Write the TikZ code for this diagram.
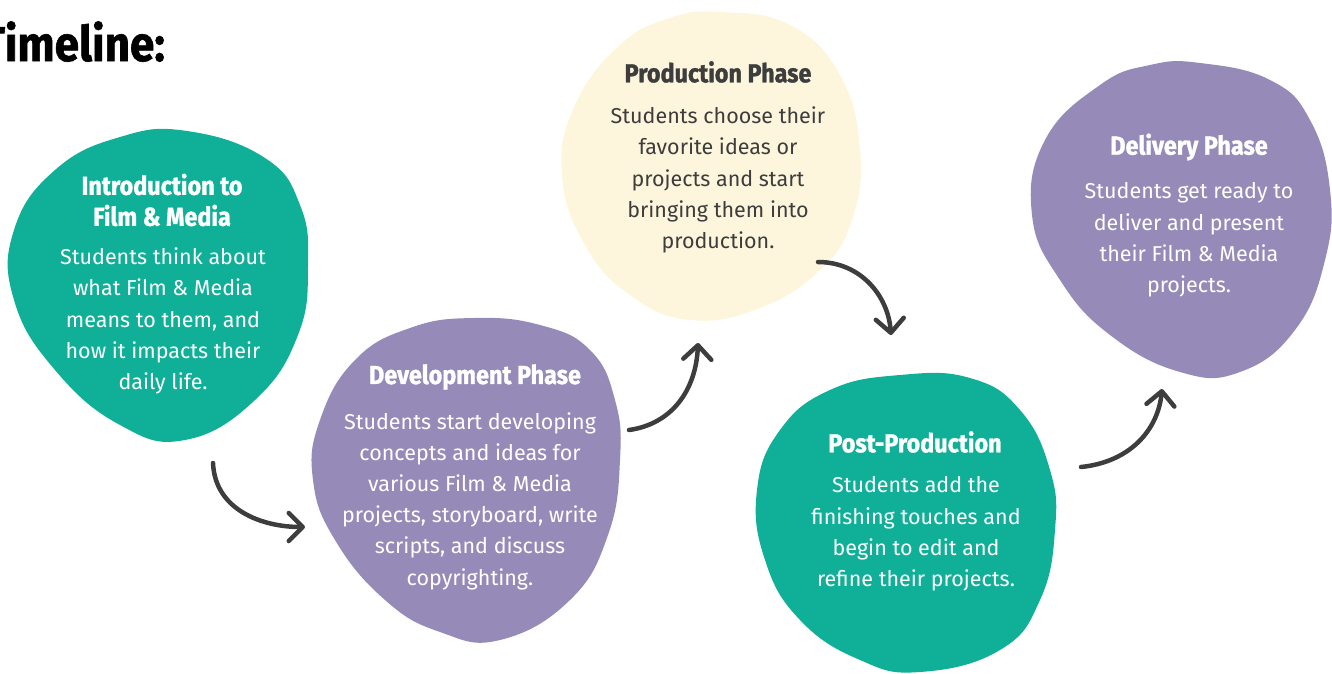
\documentclass[tikz,border=0pt]{standalone}
\usepackage{fontspec}
\setmainfont{Fira Sans}
\newfontfamily\headfont[FakeStretch=0.9,FakeBold=1.2]{Fira Sans}
\usetikzlibrary{arrows.meta}
\definecolor{tealc}{HTML}{10AF98}
\definecolor{purp}{HTML}{968BB8}
\definecolor{creamc}{HTML}{FDF6DC}
\definecolor{ink}{HTML}{3D3D3D}
\tikzset{
  headtxt/.style={font=\headfont\bfseries\fontsize{26}{31}\selectfont, align=center, text=white, inner sep=0pt},
  bodytxt/.style={font=\fontsize{21.5}{31.2}\selectfont, align=center, text=white, inner sep=0pt},
  flow/.style={draw=ink, line width=4.5pt, line cap=round, line join=round,
    -{Straight Barb[length=14pt,width=28pt,line width=4.5pt,round]}},
}
\begin{document}
\begin{tikzpicture}[x=1pt,y=-1pt]
\path[use as bounding box] (0,0) rectangle (1332,673);
% title
\node[anchor=base west, font=\headfont\bfseries\fontsize{49}{60}\selectfont, text=black, inner sep=0pt] (title) at (-19,61) {Timeline:};
% blobs
\fill[tealc] plot[smooth cycle, tension=0.75] coordinates {(187,131) (265,158) (300,205) (308,265) (298,335) (255,400) (185,440) (120,425) (55,370) (14,300) (14,230) (55,170) (120,137)};
\fill[purp] plot[smooth cycle, tension=0.75] coordinates {(473,318) (540,325) (590,350) (615,400) (620,460) (608,535) (570,600) (500,640) (440,632) (385,600) (335,540) (313,480) (320,420) (355,360) (410,328)};
\fill[creamc] plot[smooth cycle, tension=0.75] coordinates {(720,12) (790,25) (840,75) (860,150) (852,220) (820,270) (760,308) (690,320) (630,295) (585,245) (562,175) (575,105) (620,45) (670,18)};
\fill[tealc] plot[smooth cycle, tension=0.75] coordinates {(900,375) (970,378) (1020,410) (1050,470) (1055,530) (1040,600) (1000,650) (920,672) (860,660) (800,620) (765,560) (757,490) (780,430) (830,390)};
\fill[purp] plot[smooth cycle, tension=0.75] coordinates {(1200,63) (1270,80) (1310,120) (1330,190) (1325,260) (1295,330) (1240,372) (1180,372) (1110,335) (1060,280) (1032,215) (1045,140) (1100,85) (1150,65)};
% texts
\node[headtxt] (introT) at (162,200) {Introduction to\\Film \& Media};
\node[bodytxt] (introB) at (163,321) {Students think about\\what Film \& Media\\means to them, and\\how it impacts their\\daily life.};
\node[headtxt] (devT) at (475,377) {Development Phase};
\node[bodytxt] (devB) at (470,501) {Students start developing\\concepts and ideas for\\various Film \& Media\\projects, storyboard, write\\scripts, and discuss\\copyrighting.};
\node[headtxt, text=ink] (prodT) at (718,72) {Production Phase};
\node[bodytxt, text=ink] (prodB) at (718,180) {Students choose their\\favorite ideas or\\projects and start\\bringing them into\\production.};
\node[headtxt] (postT) at (915,442) {Post-Production};
\node[bodytxt] (postB) at (916,534) {Students add the\\finishing touches and\\begin to edit and\\refine their projects.};
\node[headtxt] (delT) at (1189,147) {Delivery Phase};
\node[bodytxt] (delB) at (1189,240) {Students get ready to\\deliver and present\\their Film \& Media\\projects.};
% arrows
\coordinate (a1s) at (213,463);
\coordinate (a1e) at (305,527);
\coordinate (a2s) at (629,430);
\coordinate (a2e) at (698,343);
\coordinate (a3s) at (818,262);
\coordinate (a3e) at (891,335);
\coordinate (a4s) at (1081,467);
\coordinate (a4e) at (1162,389);
\draw[flow] (a1s) .. controls (215,510) and (262,527) .. (a1e);
\draw[flow] (a2s) .. controls (672,424) and (696,390) .. (a2e);
\draw[flow] (a3s) .. controls (860,262) and (888,295) .. (a3e);
\draw[flow] (a4s) .. controls (1130,462) and (1158,430) .. (a4e);
\end{tikzpicture}
\end{document}
